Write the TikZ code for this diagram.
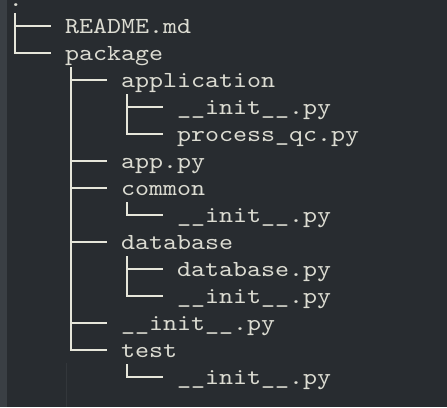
\documentclass[tikz,border=0pt]{standalone}
\usepackage{fontspec}
\setmonofont{lmmono10-regular.otf}[FakeStretch=1.16]
\usetikzlibrary{calc}
\definecolor{bgc}{HTML}{282C30}
\definecolor{strip}{HTML}{3A3F44}
\definecolor{fg}{HTML}{DCDCD2}
\definecolor{ln}{HTML}{E6E6DA}
\definecolor{faint}{HTML}{33373B}
\begin{document}
\begin{tikzpicture}[x=1pt,y=-1pt,
  entry/.style={anchor=base west, inner sep=0pt, outer sep=0pt, text=fg,
    font=\ttfamily\fontsize{23}{27}\selectfont},
  branch/.style={draw=ln, line width=2pt}]
\fill[bgc] (0,0) rectangle (447,407);
\fill[strip] (0,0) rectangle (7,407);
\draw[faint, line width=1pt] (66,363) -- (66,407);
\useasboundingbox (0,0) rectangle (447,407);
% entries
\node[entry] (root) at (9,6) {.};
\node[entry] (readme) at (65,33) {README.md};
\node[entry] (package) at (65,60) {package};
\node[entry] (application) at (121,87) {application};
\node[entry] (appinit) at (177,114) {\_\_init\_\_.py};
\node[entry] (process) at (177,141) {process\_qc.py};
\node[entry] (apppy) at (121,168) {app.py};
\node[entry] (common) at (121,195) {common};
\node[entry] (cominit) at (177,222) {\_\_init\_\_.py};
\node[entry] (database) at (121,249) {database};
\node[entry] (dbpy) at (177,276) {database.py};
\node[entry] (dbinit) at (177,303) {\_\_init\_\_.py};
\node[entry] (pkginit) at (121,330) {\_\_init\_\_.py};
\node[entry] (test) at (121,357) {test};
\node[entry] (testinit) at (177,384) {\_\_init\_\_.py};
% trunks (vertical, ending in last branch)
\draw[branch] ($(root.base west)+(6,7)$) |- ($(package.base west)+(-14,-7)$);
\draw[branch] ($(package.base west)+(6,7)$) |- ($(test.base west)+(-14,-7)$);
\draw[branch] ($(application.base west)+(6,7)$) |- ($(process.base west)+(-14,-7)$);
\draw[branch] ($(common.base west)+(6,7)$) |- ($(cominit.base west)+(-14,-7)$);
\draw[branch] ($(database.base west)+(6,7)$) |- ($(dbinit.base west)+(-14,-7)$);
\draw[branch] ($(test.base west)+(6,7)$) |- ($(testinit.base west)+(-14,-7)$);
% side branches
\foreach \n in {readme,application,appinit,apppy,common,database,dbpy,pkginit}
  \draw[branch] ($(\n.base west)+(-50,-7)$) -- ($(\n.base west)+(-14,-7)$);
\end{tikzpicture}
\end{document}
